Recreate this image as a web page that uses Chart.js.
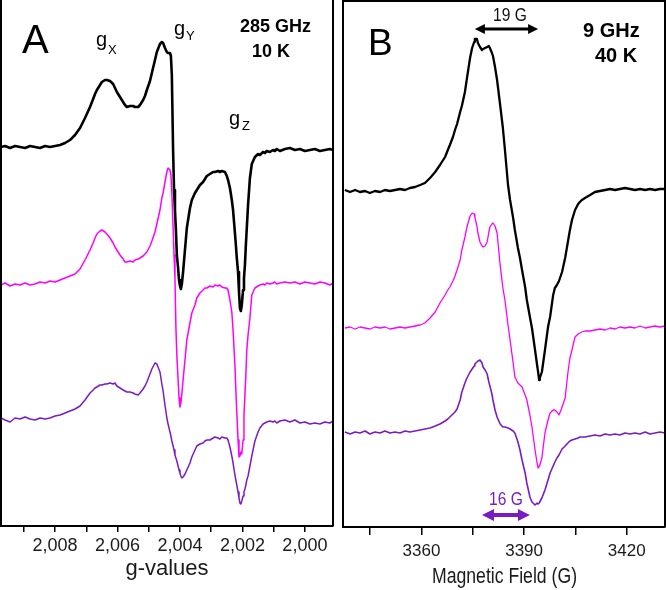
<!DOCTYPE html>
<html>
<head>
<meta charset="utf-8">
<script src="https://cdn.jsdelivr.net/npm/chart.js@4.4.1/dist/chart.umd.min.js"></script>
<style>
  html, body { margin: 0; padding: 0; background: #fff; }
  #wrap { position: relative; width: 666px; height: 590px; }
  canvas { position: absolute; top: 0; }
  #panelA { left: 0; }
  #panelB { left: 336px; }
</style>
</head>
<body>
<div id="wrap">
  <canvas id="panelA" width="336" height="590"></canvas>
  <canvas id="panelB" width="330" height="590"></canvas>
</div>
<script>
// Panel A - 285 GHz, 10 K (x = g-value, y = intensity, arb. units incl. offset)
const gA = [
  2.00973, 2.00960, 2.00944, 2.00928, 2.00912, 2.00896, 2.00880, 2.00864, 2.00848, 2.00832,
  2.00816, 2.00800, 2.00784, 2.00768, 2.00752, 2.00736, 2.00720, 2.00704, 2.00688, 2.00678,
  2.00672, 2.00666, 2.00656, 2.00650, 2.00640, 2.00634, 2.00624, 2.00614, 2.00608, 2.00602,
  2.00592, 2.00582, 2.00576, 2.00570, 2.00560, 2.00550, 2.00544, 2.00534, 2.00528, 2.00518,
  2.00512, 2.00506, 2.00496, 2.00490, 2.00480, 2.00474, 2.00464, 2.00458, 2.00454, 2.00448,
  2.00442, 2.00438, 2.00432, 2.00429, 2.00426, 2.00422, 2.00419, 2.00416, 2.00413, 2.00410,
  2.00406, 2.00403, 2.00400, 2.00397, 2.00394, 2.00390, 2.00384, 2.00378, 2.00368, 2.00362,
  2.00352, 2.00346, 2.00336, 2.00326, 2.00320, 2.00314, 2.00304, 2.00294, 2.00288, 2.00278,
  2.00272, 2.00266, 2.00256, 2.00250, 2.00246, 2.00240, 2.00234, 2.00230, 2.00224, 2.00221,
  2.00218, 2.00214, 2.00211, 2.00208, 2.00205, 2.00202, 2.00198, 2.00195, 2.00192, 2.00189,
  2.00186, 2.00182, 2.00176, 2.00170, 2.00160, 2.00150, 2.00144, 2.00134, 2.00128, 2.00122,
  2.00112, 2.00102, 2.00096, 2.00090, 2.00080, 2.00064, 2.00048, 2.00032, 2.00016, 2.00000,
  1.99984, 1.99968, 1.99952, 1.99936, 1.99920, 1.99910
];
const blackA = [
  379, 380, 378, 380, 379, 378, 380, 379, 378, 380,
  379, 380, 381, 383, 386, 391, 398, 408, 419, 427,
  432, 436, 441, 444, 446, 446, 445, 442, 438, 434,
  429, 424, 421, 419, 420, 420, 419, 419, 421, 426,
  430, 436, 445, 453, 466, 474, 482, 484, 483, 478,
  474, 473, 473, 470, 451, 376, 336, 316, 296, 271,
  258, 246, 240, 237, 242, 254, 276, 298, 318, 326,
  333, 336, 341, 344, 347, 350, 352, 354, 354, 355,
  354, 355, 354, 350, 346, 338, 326, 316, 293, 281,
  268, 254, 234, 218, 215, 221, 236, 248, 261, 281,
  298, 321, 348, 362, 369, 372, 371, 374, 373, 375,
  374, 376, 375, 377, 375, 377, 378, 376, 377, 375,
  376, 377, 375, 376, 377, 376
];
const magentaA = [
  241, 243, 240, 242, 241, 243, 241, 242, 244, 243,
  245, 244, 246, 248, 250, 252, 257, 266, 276, 283,
  288, 292, 295, 296, 294, 292, 288, 283, 279, 276,
  271, 267, 264, 264, 265, 264, 266, 267, 268, 270,
  272, 274, 280, 285, 294, 302, 316, 328, 333, 344,
  354, 358, 356, 351, 333, 299, 271, 248, 199, 171,
  146, 128, 119, 123, 132, 146, 166, 186, 203, 213,
  221, 228, 233, 236, 238, 238, 240, 239, 241, 240,
  241, 239, 238, 238, 236, 226, 214, 196, 161, 136,
  113, 86, 69, 70, 74, 72, 86, 111, 131, 151,
  176, 191, 208, 231, 238, 240, 241, 242, 241, 243,
  242, 243, 244, 242, 243, 244, 243, 244, 242, 244,
  243, 242, 244, 243, 241, 243
];
const purpleA = [
  108, 106, 104, 108, 107, 109, 107, 106, 108, 107,
  108, 110, 111, 113, 115, 117, 120, 126, 133, 136,
  138, 139, 141, 141, 142, 142, 143, 142, 143, 140,
  138, 136, 135, 134, 134, 133, 132, 131, 133, 137,
  140, 144, 152, 157, 163, 162, 154, 142, 135, 121,
  108, 102, 94, 90, 85, 80, 76, 71, 68, 65,
  60, 56, 53, 50, 48, 49, 52, 56, 63, 69,
  76, 80, 82, 83, 85, 86, 86, 88, 89, 88,
  87, 89, 88, 88, 86, 79, 70, 63, 51, 46,
  41, 34, 28, 23, 22, 25, 30, 34, 37, 41,
  46, 50, 60, 70, 85, 94, 98, 102, 103, 104,
  105, 104, 105, 103, 105, 106, 104, 106, 103, 104,
  102, 103, 102, 104, 103, 105
];
const tickValsA = [2.009, 2.008, 2.007, 2.006, 2.005, 2.004, 2.003, 2.002, 2.001, 2.000];
const tickLabelsA = ['', '2,008', '', '2,006', '', '2,004', '', '2,002', '', '2,000'];

// Panel B - 9 GHz, 40 K (x = field in G)
const fieldB = [
  3337.6, 3339.1, 3340.6, 3342.0, 3343.5, 3344.9, 3346.4, 3347.9, 3349.3, 3350.8,
  3352.3, 3353.7, 3355.2, 3356.6, 3358.1, 3359.6, 3361.0, 3362.5, 3364.0, 3365.4,
  3366.9, 3367.7, 3368.3, 3369.2, 3369.8, 3370.4, 3371.3, 3371.8, 3372.7, 3373.3,
  3374.2, 3374.8, 3375.4, 3375.6, 3376.2, 3376.5, 3377.1, 3377.7, 3378.0, 3378.6,
  3379.2, 3379.7, 3380.0, 3380.6, 3380.9, 3381.5, 3382.1, 3383.0, 3383.8, 3384.4,
  3385.3, 3385.9, 3386.8, 3387.3, 3388.2, 3388.8, 3389.4, 3390.3, 3390.8, 3391.7,
  3392.3, 3393.2, 3393.8, 3394.1, 3394.4, 3394.6, 3395.2, 3396.1, 3397.0, 3397.6,
  3398.5, 3399.0, 3399.6, 3400.2, 3400.8, 3401.1, 3402.0, 3402.8, 3403.4, 3404.0,
  3404.9, 3405.8, 3406.3, 3406.9, 3407.8, 3409.3, 3410.7, 3412.2, 3413.7, 3415.1,
  3416.6, 3418.0, 3419.5, 3421.0, 3422.4, 3423.9, 3425.4, 3426.8, 3428.3, 3429.7,
  3431.2
];
const blackB = [
  337, 335, 337, 335, 336, 334, 336, 335, 337, 336,
  337, 338, 337, 339, 340, 342, 344, 349, 355, 362,
  370, 377, 382, 390, 397, 403, 415, 421, 435, 449,
  469, 479, 485, 488, 488, 484, 480, 477, 478, 479,
  480, 481, 479, 474, 471, 460, 447, 422, 399, 377,
  342, 327, 309, 297, 279, 269, 257, 240, 227, 210,
  199, 177, 162, 155, 147, 149, 155, 177, 200, 210,
  232, 239, 242, 246, 252, 255, 269, 285, 297, 307,
  317, 323, 325, 327, 329, 332, 335, 336, 337, 338,
  337, 338, 339, 338, 337, 338, 337, 338, 337, 338,
  338
];
const magentaB = [
  199, 200, 198, 200, 199, 198, 200, 199, 200, 198,
  199, 200, 199, 200, 201, 202, 204, 209, 215, 224,
  232, 237, 240, 246, 251, 257, 267, 277, 290, 300,
  311, 314, 313, 310, 301, 294, 285, 281, 280, 281,
  285, 295, 300, 303, 304, 301, 294, 262, 239, 227,
  202, 187, 164, 150, 144, 142, 140, 132, 127, 112,
  100, 77, 64, 59, 61, 62, 69, 94, 107, 114,
  117, 117, 115, 112, 117, 120, 129, 154, 169, 177,
  190, 193, 194, 195, 196, 196, 197, 198, 197, 199,
  198, 200, 199, 200, 199, 201, 199, 200, 201, 200,
  201
];
const purpleB = [
  95, 93, 95, 94, 96, 93, 95, 94, 96, 94,
  95, 94, 96, 95, 96, 97, 98, 99, 101, 103,
  106, 108, 110, 113, 115, 118, 127, 135, 144, 149,
  155, 158, 161, 163, 165, 166, 167, 164, 160, 157,
  153, 145, 141, 133, 127, 117, 110, 103, 100, 100,
  99, 98, 96, 94, 85, 77, 67, 54, 44, 30,
  25, 22, 24, 23, 24, 24, 29, 37, 47, 54,
  61, 65, 69, 72, 76, 78, 81, 84, 86, 87,
  88, 89, 90, 90, 90, 91, 92, 91, 93, 92,
  93, 92, 94, 93, 94, 93, 95, 93, 94, 95,
  94
];
const tickValsB = [3345, 3360, 3375, 3390, 3405, 3420];
const tickLabelsB = ['', '3360', '', '3390', '', '3420'];
const span19 = [3375.6, 3394.1];   // "19 G" arrow, field units
const span16 = [3377.7, 3391.7];   // "16 G" arrow

const BLACK = '#000000';
const MAGENTA = '#ff00ff';
const PURPLE = '#7a1cc4';
const SANS = '"Liberation Sans", Arial, sans-serif';

const pts = (xs, ys) => xs.map((x, i) => ({ x: x, y: ys[i] }));

function line(label, data, color, width) {
  return { label, data, borderColor: color, borderWidth: width, pointRadius: 0,
           fill: false, tension: 0, borderJoinStyle: 'round' };
}

function drawArrow(ctx, x1, x2, y, color, shaft, head, half) {
  ctx.strokeStyle = color;
  ctx.fillStyle = color;
  ctx.lineWidth = shaft;
  ctx.beginPath();
  ctx.moveTo(x1 + head - 1, y);
  ctx.lineTo(x2 - head + 1, y);
  ctx.stroke();
  ctx.beginPath();
  ctx.moveTo(x1, y); ctx.lineTo(x1 + head, y - half); ctx.lineTo(x1 + head, y + half);
  ctx.closePath(); ctx.fill();
  ctx.beginPath();
  ctx.moveTo(x2, y); ctx.lineTo(x2 - head, y - half); ctx.lineTo(x2 - head, y + half);
  ctx.closePath(); ctx.fill();
}

// squeeze < 1 imitates the condensed face used in panel B
function text(ctx, str, x, y, font, color, squeeze, align) {
  ctx.save();
  ctx.font = font;
  ctx.fillStyle = color || '#000';
  ctx.textAlign = align || 'left';
  ctx.textBaseline = 'alphabetic';
  ctx.translate(x, y);
  ctx.scale(squeeze || 1, 1);
  ctx.fillText(str, 0, 0);
  ctx.restore();
}

// frame lines the axes do not draw
function framePlugin(withTop) {
  return {
    id: 'frame',
    afterDraw(chart) {
      const { ctx, chartArea: a } = chart;
      ctx.save();
      ctx.strokeStyle = '#000';
      ctx.lineWidth = 2;
      ctx.beginPath();
      ctx.moveTo(a.left, withTop ? a.top : 0); ctx.lineTo(a.left, a.bottom);
      ctx.moveTo(a.right, withTop ? a.top : 0); ctx.lineTo(a.right, a.bottom);
      if (withTop) { ctx.moveTo(a.left - 1, a.top); ctx.lineTo(a.right + 1, a.top); }
      ctx.stroke();
      ctx.restore();
    }
  };
}

const notesA = {
  id: 'notesA',
  afterDraw(chart) {
    const ctx = chart.ctx;
    text(ctx, 'A', 22, 53, '40px ' + SANS);
    text(ctx, 'g', 96, 46, '20px ' + SANS);
    text(ctx, 'X', 108, 54, '13px ' + SANS);
    text(ctx, 'g', 174, 35, '20px ' + SANS);
    text(ctx, 'Y', 186, 40, '13px ' + SANS);
    text(ctx, 'g', 229, 125, '20px ' + SANS);
    text(ctx, 'Z', 242, 130, '13px ' + SANS);
    text(ctx, '285 GHz', 240, 32, 'bold 18px ' + SANS);
    text(ctx, '10 K', 252, 57, 'bold 18px ' + SANS);
  }
};

const notesB = {
  id: 'notesB',
  afterDraw(chart) {
    const ctx = chart.ctx;
    const xs = chart.scales.x, ys = chart.scales.y;
    text(ctx, 'B', 32, 55, '37px ' + SANS);
    text(ctx, '9 GHz', 247, 37, 'bold 20px ' + SANS);
    text(ctx, '40 K', 259, 62, 'bold 20px ' + SANS);
    text(ctx, '19 G', 157, 21, '19px ' + SANS, '#111', 0.82);
    ctx.save();
    drawArrow(ctx, xs.getPixelForValue(span19[0]), xs.getPixelForValue(span19[1]),
              ys.getPixelForValue(498), BLACK, 3, 10, 5);
    ctx.restore();
    text(ctx, '16 G', 153, 505, '19px ' + SANS, PURPLE, 0.82);
    ctx.save();
    drawArrow(ctx, xs.getPixelForValue(span16[0]), xs.getPixelForValue(span16[1]),
              ys.getPixelForValue(12), PURPLE, 4, 12, 6);
    ctx.restore();
    // axis title in the condensed face
    text(ctx, 'Magnetic Field (G)', 168.5, 583, '21.5px ' + SANS, '#1a1a1a', 0.82, 'center');
  }
};

function xAxis(o) {
  return {
    type: 'linear',
    reverse: o.reverse,
    min: o.min,
    max: o.max,
    afterBuildTicks: s => { s.ticks = o.ticks.map(v => ({ value: v })); },
    afterFit: s => { s.height = o.height; },
    ticks: {
      callback: (v, i) => o.labels[i],
      autoSkip: false, maxRotation: 0, padding: o.pad,
      color: '#1a1a1a', font: { family: SANS, size: o.tickSize }
    },
    grid: { drawOnChartArea: false, drawTicks: true, tickLength: o.tl, color: '#000', lineWidth: 1.5 },
    border: { display: true, color: '#000', width: 2 },
    title: {
      display: o.title !== '', text: o.title, color: '#1a1a1a',
      font: { family: SANS, size: o.titleSize },
      padding: { top: 0, bottom: o.titlePad }
    }
  };
}

function options(o) {
  return {
    responsive: false,
    animation: false,
    devicePixelRatio: 1,
    layout: { padding: o.padding },
    plugins: { legend: { display: false }, tooltip: { enabled: false } },
    scales: {
      x: xAxis(o),
      y: { display: false, min: o.ymin, max: o.ymax }
    }
  };
}

new Chart(document.getElementById('panelA'), {
  type: 'line',
  data: {
    datasets: [
      line('black', pts(gA, blackA), BLACK, 2.6),
      line('magenta', pts(gA, magentaA), MAGENTA, 1.5),
      line('purple', pts(gA, purpleA), PURPLE, 1.5)
    ]
  },
  options: options({
    reverse: true, min: 1.99910, max: 2.00973, ticks: tickValsA, labels: tickLabelsA,
    height: 64, pad: 3, tl: 6, tickSize: 18, title: 'g-values', titleSize: 22, titlePad: 8,
    padding: { left: 1, right: 3, top: 1, bottom: 0 }, ymin: 0, ymax: 525
  }),
  plugins: [framePlugin(false), notesA]
});

new Chart(document.getElementById('panelB'), {
  type: 'line',
  data: {
    datasets: [
      line('black', pts(fieldB, blackB), BLACK, 2.3),
      line('magenta', pts(fieldB, magentaB), MAGENTA, 1.3),
      line('purple', pts(fieldB, purpleB), PURPLE, 1.6)
    ]
  },
  options: options({
    reverse: false, min: 3337.05, max: 3431.2, ticks: tickValsB, labels: tickLabelsB,
    height: 63, pad: 6, tl: 8, tickSize: 17, title: '', titleSize: 18, titlePad: 4,
    padding: { left: 7, right: 1, top: 1, bottom: 0 }, ymin: 0, ymax: 526
  }),
  plugins: [framePlugin(true), notesB]
});
</script>
</body>
</html>
